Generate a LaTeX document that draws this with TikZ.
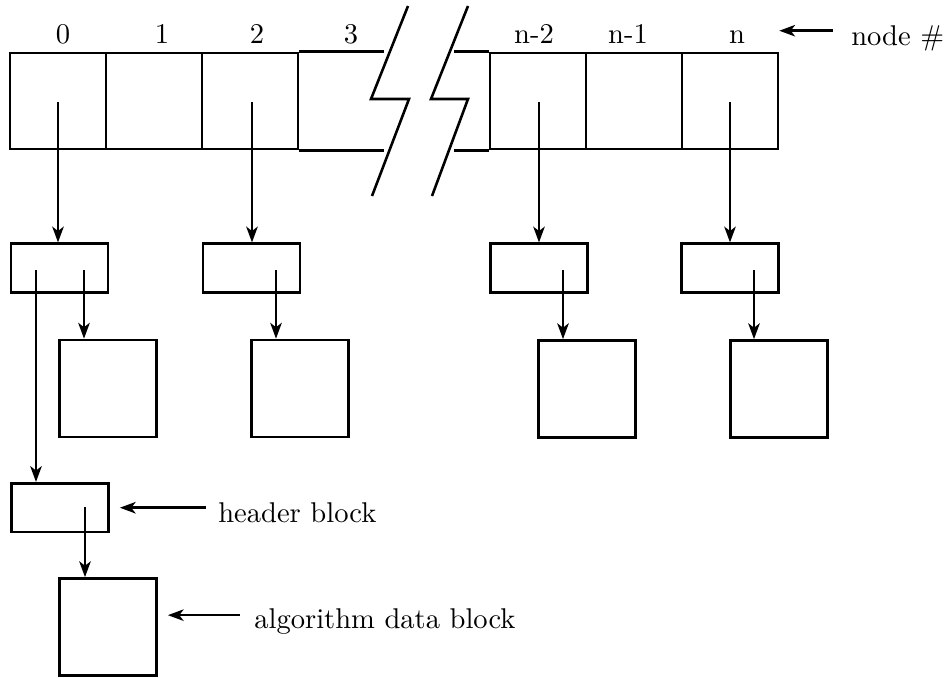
\documentclass[tikz,border=0pt]{standalone}
\usetikzlibrary{arrows.meta}
\tikzset{
  ->/.style={-{Stealth[length=5.5pt,width=4pt,inset=1.5pt]}},
  cell/.style={draw,minimum width=33.6pt,minimum height=33.6pt,inner sep=0pt},
  hdr/.style={draw,minimum width=34pt,minimum height=17pt,inner sep=0pt},
  blk/.style={draw,minimum width=34pt,minimum height=34pt,inner sep=0pt},
  num/.style={anchor=base,inner sep=0pt},
  note/.style={anchor=base west,inner sep=0pt}
}

\begin{document}
\begin{tikzpicture}[x=0.35pt,y=-0.35pt,line width=0.9pt]
    \useasboundingbox (0,0) rectangle (944,677);
    \node[cell] (c0) at (58,101) {};
    \node[cell] (c1) at (154,101) {};
    \node[cell] (c2) at (250,101) {};
    \node[cell] (cn2) at (538,101) {};
    \node[cell] (cn1) at (634,101) {};
    \node[cell] (cn) at (730,101) {};
    \draw (c2.north east) -- ++(85,0);
    \draw (c2.south east) -- ++(85,0);
    \draw (cn2.north west) -- ++(-35,0);
    \draw (cn2.south west) -- ++(-35,0);
    % break marks
    \draw (408,6) -- (371,99) -- (409,99) -- (372,196);
    \draw (468,6) -- (431,99) -- (468,99) -- (432,196);
    \node[num] (l0) at (63,43) {0};
    \node[num] (l1) at (162,43) {1};
    \node[num] (l2) at (257,43) {2};
    \node[num] (l3) at (351,43) {3};
    \node[num] (ln2) at (534,43) {n-2};
    \node[num] (ln1) at (628,43) {n-1};
    \node[num] (ln) at (737,43) {n};
    \node[note] (nodelbl) at (850,45) {node \#};
    \coordinate (nodearr) at ([shift={(-6pt,5pt)}]nodelbl.base west);
    \draw[->] (nodearr) -- (nodearr -| cn.east);
    \node[hdr] (h0) at (59.5,268) {};
    \node[hdr] (h2) at (251.5,268) {};
    \node[hdr] (hn2) at (539,268) {};
    \node[hdr] (hn) at (730,268) {};
    \node[blk] (d0) at (108,388.5) {};
    \node[blk] (d2) at (300,388.5) {};
    \node[blk] (dn2) at (587,389) {};
    \node[blk] (dn) at (779,389) {};
    \node[hdr] (hb) at (60,507.5) {};
    \node[blk] (db) at (108,627) {};
    \coordinate (p0) at (58,102);
    \coordinate (p2) at (252,102);
    \coordinate (pn2) at (539,102);
    \coordinate (pn) at (730,102);
    \coordinate (q0) at (84,270);
    \coordinate (r0) at (36,270);
    \coordinate (q2) at (276,270);
    \coordinate (qn2) at (563,270);
    \coordinate (qn) at (754,270);
    \coordinate (qb) at (85,507);
    \draw[->] (p0) -- (p0 |- h0.north);
    \draw[->] (p2) -- (p2 |- h2.north);
    \draw[->] (pn2) -- (pn2 |- hn2.north);
    \draw[->] (pn) -- (pn |- hn.north);
    \draw[->] (q0) -- (q0 |- d0.north);
    \draw[->] (r0) -- (r0 |- hb.north);
    \draw[->] (q2) -- (q2 |- d2.north);
    \draw[->] (qn2) -- (qn2 |- dn2.north);
    \draw[->] (qn) -- (qn |- dn.north);
    \draw[->] (qb) -- (qb |- db.north);
    \node[note] (hdrlbl) at (217,522) {header block};
    \coordinate (hdrarr) at ([shift={(-4pt,5pt)}]hdrlbl.base west);
    \draw[->,shorten >=3.5pt] (hdrarr) -- (hdrarr -| hb.east);
    \node[note] (datlbl) at (253,628) {algorithm data block};
    \coordinate (datarr) at ([shift={(-4.5pt,4.5pt)}]datlbl.base west);
    \draw[->,shorten >=3.5pt] (datarr) -- (datarr -| db.east);
\end{tikzpicture}
\end{document}
